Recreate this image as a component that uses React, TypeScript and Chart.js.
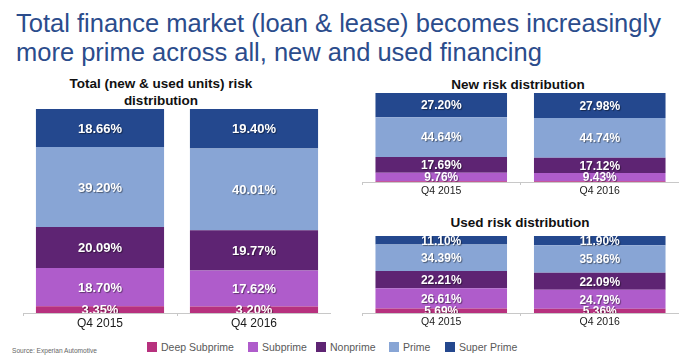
import React, { useEffect, useRef } from 'react';
import { Chart, registerables } from 'chart.js';

Chart.register(...registerables);

const FONT = '"Liberation Sans", Arial, Helvetica, sans-serif';

const categories = ['Q4 2015', 'Q4 2016'];
const seriesNames = ['Deep Subprime', 'Subprime', 'Nonprime', 'Prime', 'Super Prime'];
const seriesColors = ['#B7317E', '#AF5CCB', '#5E2473', '#88A5D5', '#24488E'];

// Total (new & used units)
const totalDeepSubprime = [3.35, 3.2];
const totalSubprime = [18.7, 17.62];
const totalNonprime = [20.09, 19.77];
const totalPrime = [39.2, 40.01];
const totalSuperPrime = [18.66, 19.4];

// New
const newDeepSubprime = [0.71, 0.73];
const newSubprime = [9.76, 9.43];
const newNonprime = [17.69, 17.12];
const newPrime = [44.64, 44.74];
const newSuperPrime = [27.2, 27.98];

// Used
const usedDeepSubprime = [5.69, 5.36];
const usedSubprime = [26.61, 24.79];
const usedNonprime = [22.21, 22.09];
const usedPrime = [34.39, 35.86];
const usedSuperPrime = [11.1, 11.9];

const labelPlugin = {
  id: 'segLabels',
  afterDatasetsDraw(chart: any, _args: any, opts: any) {
    const ctx = chart.ctx;
    const area = chart.chartArea;
    ctx.save();
    ctx.beginPath();
    ctx.rect(area.left, 0, area.right - area.left, area.bottom);
    ctx.clip();
    ctx.font = `bold ${opts.size}px ${FONT}`;
    ctx.fillStyle = '#ffffff';
    ctx.textAlign = 'center';
    ctx.textBaseline = 'middle';
    ctx.shadowColor = 'rgba(0,0,0,0.45)';
    ctx.shadowOffsetX = 1;
    ctx.shadowOffsetY = 1;
    ctx.shadowBlur = 1;
    chart.data.datasets.forEach((ds: any, i: number) => {
      const meta = chart.getDatasetMeta(i);
      meta.data.forEach((bar: any, j: number) => {
        const v = ds.data[j];
        if (v == null || v < 1) return;
        const p = bar.getProps(['x', 'y', 'base'], true);
        ctx.fillText(v.toFixed(2) + '%', p.x, (p.y + p.base) / 2 + 1);
      });
    });
    ctx.restore();
  },
};

type BarProps = {
  left: number;
  top: number;
  width: number;
  height: number;
  padTop: number;
  series: number[][];
  barPct: number;
  tickSize: number;
  labelSize: number;
};

function StackedBars(props: BarProps) {
  const ref = useRef<HTMLCanvasElement | null>(null);
  useEffect(() => {
    if (!ref.current) return;
    const chart = new Chart(ref.current, {
      type: 'bar',
      data: {
        labels: categories,
        datasets: seriesNames.map((name, i) => ({
          label: name,
          data: props.series[i],
          backgroundColor: seriesColors[i],
          borderWidth: 0,
          barPercentage: props.barPct,
          categoryPercentage: 1,
        })),
      },
      options: {
        animation: false,
        responsive: false,
        maintainAspectRatio: false,
        layout: { padding: { top: props.padTop, left: 0, right: 0, bottom: 0 } },
        plugins: {
          legend: { display: false },
          tooltip: { enabled: false },
          segLabels: { size: props.labelSize },
        } as any,
        scales: {
          x: {
            stacked: true,
            grid: {
              display: true,
              drawOnChartArea: false,
              drawTicks: true,
              tickLength: 3,
              color: '#c8c8c8',
              offset: true,
            },
            border: { display: true, color: '#c8c8c8', width: 1 },
            ticks: {
              color: '#1a1a1a',
              font: { family: FONT, size: props.tickSize },
              padding: 0,
              maxRotation: 0,
            },
            afterFit: (s: any) => {
              s.height = 25;
            },
          } as any,
          y: { stacked: true, display: false, min: 0, max: 100 },
        },
      },
      plugins: [labelPlugin as any],
    });
    return () => chart.destroy();
  }, []);
  return (
    <canvas
      ref={ref}
      width={props.width}
      height={props.height}
      style={{
        position: 'absolute',
        left: props.left,
        top: props.top,
        width: props.width,
        height: props.height,
      }}
    />
  );
}

const legendX = [147, 248, 316, 389, 445];

export default function App() {
  const subStyle: React.CSSProperties = {
    position: 'absolute',
    fontWeight: 'bold',
    fontSize: 13.5,
    lineHeight: '17px',
    color: '#111',
    textAlign: 'center',
    whiteSpace: 'nowrap',
  };
  return (
    <div
      style={{
        position: 'absolute',
        left: 0,
        top: 0,
        width: 684,
        height: 360,
        background: '#fff',
        fontFamily: FONT,
        overflow: 'hidden',
      }}
    >
      <div
        style={{
          position: 'absolute',
          left: 16,
          top: 9,
          fontSize: 25.5,
          lineHeight: '29px',
          color: '#2B4C8C',
          whiteSpace: 'nowrap',
        }}
      >
        Total finance market (loan &amp; lease) becomes increasingly
        <br />
        more prime across all, new and used financing
      </div>

      <div style={{ ...subStyle, left: 41, width: 240, top: 74.5 }}>
        Total (new &amp; used units) risk
        <br />
        distribution
      </div>
      <div style={{ ...subStyle, left: 398, width: 240, top: 75.5 }}>New risk distribution</div>
      <div style={{ ...subStyle, left: 400, width: 240, top: 214 }}>Used risk distribution</div>

      <StackedBars
        left={23}
        top={100}
        width={308}
        height={238}
        padTop={9}
        series={[totalDeepSubprime, totalSubprime, totalNonprime, totalPrime, totalSuperPrime]}
        barPct={0.832}
        tickSize={12}
        labelSize={13}
      />
      <StackedBars
        left={362}
        top={85}
        width={317}
        height={122}
        padTop={8}
        series={[newDeepSubprime, newSubprime, newNonprime, newPrime, newSuperPrime]}
        barPct={0.83}
        tickSize={10.5}
        labelSize={12}
      />
      <StackedBars
        left={362}
        top={228}
        width={317}
        height={110}
        padTop={8}
        series={[usedDeepSubprime, usedSubprime, usedNonprime, usedPrime, usedSuperPrime]}
        barPct={0.83}
        tickSize={10.5}
        labelSize={12}
      />

      <div
        style={{
          position: 'absolute',
          left: 12,
          top: 346,
          fontSize: 6.6,
          lineHeight: '9px',
          color: '#666',
          whiteSpace: 'nowrap',
        }}
      >
        Source: Experian Automotive
      </div>

      {seriesNames.map((name, i) => (
        <div
          key={name}
          style={{
            position: 'absolute',
            left: legendX[i],
            top: 341,
            height: 12,
            display: 'flex',
            alignItems: 'center',
            whiteSpace: 'nowrap',
          }}
        >
          <span
            style={{
              display: 'inline-block',
              width: 10,
              height: 10,
              background: seriesColors[i],
              marginRight: 4,
            }}
          />
          <span style={{ fontSize: 10.5, color: '#595959', lineHeight: '12px' }}>{name}</span>
        </div>
      ))}
    </div>
  );
}
